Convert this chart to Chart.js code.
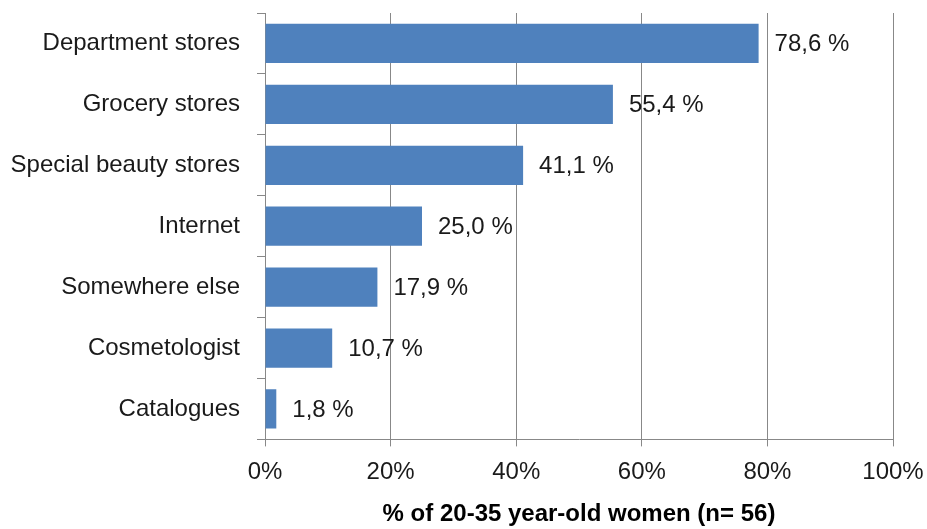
<!DOCTYPE html>
<html>
<head>
<meta charset="utf-8">
<script src="https://cdn.jsdelivr.net/npm/chart.js@4/dist/chart.umd.min.js"></script>
<style>
html,body{margin:0;padding:0;background:#fff;}
#wrap{width:927px;height:529px;}
</style>
</head>
<body>
<div id="wrap"><canvas id="c" width="927" height="529"></canvas></div>
<script>
const categories = ["Department stores","Grocery stores","Special beauty stores","Internet","Somewhere else","Cosmetologist","Catalogues"];
const values = [78.6, 55.4, 41.1, 25.0, 17.9, 10.7, 1.8];
const valueLabels = ["78,6 %","55,4 %","41,1 %","25,0 %","17,9 %","10,7 %","1,8 %"];
const xTitle = "% of 20-35 year-old women (n= 56)";
const FONT = "'Liberation Sans', Arial, sans-serif";

const labelPlugin = {
  id: 'vlabels',
  afterDatasetsDraw(chart) {
    const ctx = chart.ctx;
    const meta = chart.getDatasetMeta(0);
    ctx.save();
    ctx.font = "24px " + FONT;
    ctx.fillStyle = "#1a1a1a";
    ctx.textAlign = "left";
    ctx.textBaseline = "middle";
    meta.data.forEach((bar, i) => {
      ctx.fillText(valueLabels[i], bar.x + 16, bar.y + 1);
    });
    ctx.restore();
  }
};

new Chart(document.getElementById('c'), {
  type: 'bar',
  data: {
    labels: categories,
    datasets: [{
      data: values,
      backgroundColor: '#4F81BD',
      borderWidth: 0,
      categoryPercentage: 1,
      barPercentage: 0.645
    }]
  },
  options: {
    indexAxis: 'y',
    responsive: false,
    animation: false,
    devicePixelRatio: 1,
    layout: { padding: { top: 13, right: 34, left: 0, bottom: 0 } },
    plugins: { legend: { display: false }, tooltip: { enabled: false } },
    scales: {
      x: {
        min: 0, max: 100,
        afterFit(scale) { scale.paddingRight = 0; scale.paddingLeft = 0; },
        ticks: { stepSize: 20, callback: v => v + '%', color: '#1a1a1a', font: { family: FONT, size: 24 }, padding: 12 },
        grid: { color: '#888', lineWidth: 1, drawTicks: true, tickLength: 7, tickColor: '#888' },
        border: { display: true, color: '#888' },
        title: { display: true, text: xTitle, color: '#000', font: { family: FONT, size: 24, weight: 'bold' }, padding: { top: 1, bottom: 0 } }
      },
      y: {
        offset: true,
        afterFit(scale) { scale.width = 265; scale.paddingTop = 0; scale.paddingBottom = 0; },
        ticks: { color: '#1a1a1a', font: { family: FONT, size: 24 }, padding: 17 },
        grid: { offset: true, drawOnChartArea: false, drawTicks: true, tickLength: 8, color: '#888' },
        border: { display: true, color: '#888' }
      }
    }
  },
  plugins: [labelPlugin]
});
</script>
</body>
</html>
